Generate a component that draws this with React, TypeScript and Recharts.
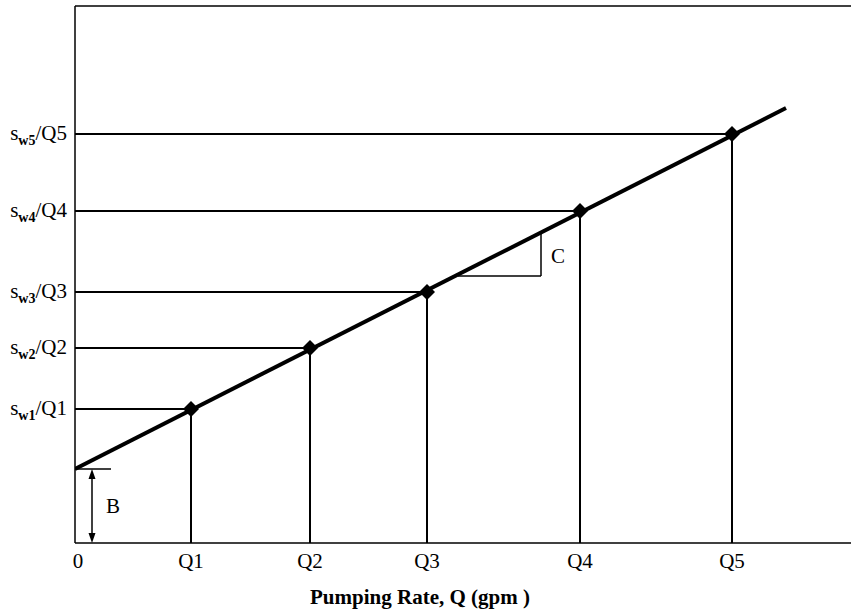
import React from 'react';
import {
  ComposedChart,
  Line,
  Scatter,
  XAxis,
  YAxis,
  ReferenceLine,
  ReferenceDot,
  Label,
} from 'recharts';

// pumping rates Q1..Q5 (schematic units) and specific drawdown sw/Q at each
const rateLabels = ['Q1', 'Q2', 'Q3', 'Q4', 'Q5'];
const rates = [1.16, 2.35, 3.52, 5.05, 6.57];
const drawdowns = [1.34, 1.95, 2.51, 3.32, 4.09];
const drawdownLabels = ['w1', 'w2', 'w3', 'w4', 'w5'];

// fitted straight line sw/Q = B + C*Q
const intercept = 0.74;
const lineEndQ = 7.11;
const lineEndValue = 4.35;

// slope triangle for C
const slopeStartQ = 3.83;
const slopeEndQ = 4.66;
const slopeBase = 2.67;
const slopeTop = 3.1;

const xMax = 7.76;
const yMax = 5.37;

const fitLine = [
  { q: 0, v: intercept },
  { q: lineEndQ, v: lineEndValue },
];
const points = rates.map((q, i) => ({ q, v: drawdowns[i] }));

const FONT = '"Liberation Serif", "Times New Roman", serif';

const Diamond = (props: any) => {
  const { cx, cy } = props;
  const r = 8;
  return <polygon points={`${cx},${cy - r} ${cx + r},${cy} ${cx},${cy + r} ${cx - r},${cy}`} fill="#000" />;
};

const YTick = (props: any) => {
  const { x, y, payload } = props;
  const i = drawdowns.indexOf(payload.value);
  return (
    <text x={x} y={y + 6} textAnchor="end" fontFamily={FONT} fontSize={21} fill="#000">
      <tspan>s</tspan>
      <tspan fontSize={14} fontWeight="bold" dy={5}>{drawdownLabels[i]}</tspan>
      <tspan dy={-5}>/{rateLabels[i]}</tspan>
    </text>
  );
};

const XTick = (props: any) => {
  const { x, y, payload } = props;
  const label = payload.value === 0 ? '0' : rateLabels[rates.indexOf(payload.value)];
  return (
    <text x={payload.value === 0 ? x + 3 : x} y={y + 17} textAnchor="middle" fontFamily={FONT} fontSize={21} fill="#000">
      {label}
    </text>
  );
};

const DoubleArrow = (props: any) => {
  const { x1, y1, x2, y2 } = props;
  const top = Math.min(y1, y2);
  const bottom = Math.max(y1, y2);
  const x = x1;
  return (
    <g>
      <line x1={x} y1={top + 8} x2={x} y2={bottom - 8} stroke="#000" strokeWidth={1.5} />
      <polygon points={`${x},${top} ${x - 3.5},${top + 10} ${x + 3.5},${top + 10}`} fill="#000" />
      <polygon points={`${x},${bottom} ${x - 3.5},${bottom - 10} ${x + 3.5},${bottom - 10}`} fill="#000" />
    </g>
  );
};

export default function App() {
  return (
    <div style={{ width: 851, height: 614, background: '#fff' }}>
      <style>{'body{margin:0}'}</style>
      <ComposedChart width={851} height={614} margin={{ top: 6, right: 0, bottom: 0, left: 0 }}>
        <XAxis
          type="number"
          dataKey="q"
          domain={[0, xMax]}
          ticks={[0, ...rates]}
          tick={<XTick />}
          tickLine={false}
          axisLine={{ stroke: '#000', strokeWidth: 1.5 }}
          height={71}
          allowDataOverflow
        >
          <Label
            value="Pumping Rate, Q (gpm )"
            position="insideBottom"
            offset={10}
            dx={-43}
            style={{ fontFamily: FONT, fontSize: 21, fontWeight: 'bold', fill: '#000' }}
          />
        </XAxis>
        <YAxis
          type="number"
          dataKey="v"
          domain={[0, yMax]}
          ticks={drawdowns}
          tick={<YTick />}
          tickLine={false}
          axisLine={{ stroke: '#000', strokeWidth: 1.5 }}
          width={75}
          allowDataOverflow
        />
        <ReferenceLine y={yMax} stroke="#000" strokeWidth={1.5} />
        {points.map((p, i) => (
          <ReferenceLine
            key={`h${i}`}
            segment={[{ x: 0, y: p.v }, { x: p.q, y: p.v }]}
            stroke="#000"
            strokeWidth={2}
          />
        ))}
        {points.map((p, i) => (
          <ReferenceLine
            key={`v${i}`}
            segment={[{ x: p.q, y: 0 }, { x: p.q, y: p.v }]}
            stroke="#000"
            strokeWidth={2}
          />
        ))}
        <ReferenceLine segment={[{ x: 0, y: intercept }, { x: 0.36, y: intercept }]} stroke="#000" strokeWidth={1.5} />
        <ReferenceLine segment={[{ x: 0.17, y: 0 }, { x: 0.17, y: intercept }]} shape={<DoubleArrow />} />
        <ReferenceLine
          segment={[{ x: slopeStartQ, y: slopeBase }, { x: slopeEndQ, y: slopeBase }]}
          stroke="#000"
          strokeWidth={1.5}
        />
        <ReferenceLine
          segment={[{ x: slopeEndQ, y: slopeBase }, { x: slopeEndQ, y: slopeTop }]}
          stroke="#000"
          strokeWidth={1.5}
        />
        <ReferenceDot x={0.26} y={0.37} r={0} stroke="none" fill="none">
          <Label value="B" position="right" style={{ fontFamily: FONT, fontSize: 21, fill: '#000' }} />
        </ReferenceDot>
        <ReferenceDot x={4.71} y={2.87} r={0} stroke="none" fill="none">
          <Label value="C" position="right" style={{ fontFamily: FONT, fontSize: 21, fill: '#000' }} />
        </ReferenceDot>
        <Line
          data={fitLine}
          dataKey="v"
          stroke="#000"
          strokeWidth={4}
          dot={false}
          activeDot={false}
          isAnimationActive={false}
        />
        <Scatter data={points} dataKey="v" shape={<Diamond />} isAnimationActive={false} />
      </ComposedChart>
    </div>
  );
}
